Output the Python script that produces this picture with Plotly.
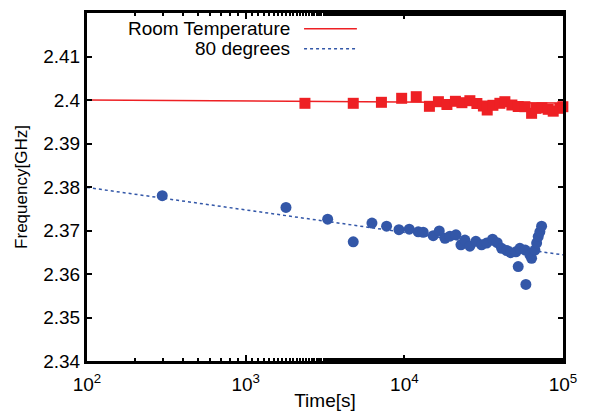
import plotly.graph_objects as go

# Room temperature (red squares)
rt_time = [2364, 4765, 7172, 9620, 11890, 14390, 16400, 18550, 20990, 23060,
           25890, 28660, 31500, 33290, 36160, 40010, 43020, 47640, 52200, 57520,
           63400, 67460, 73620, 80680, 86750, 95560, 99800]
rt_freq = [2.39924, 2.39924, 2.39947, 2.40039, 2.40076, 2.39855, 2.39961, 2.39897, 2.39970, 2.39938,
           2.39984, 2.39920, 2.39862, 2.39770, 2.39878, 2.39924, 2.39961, 2.39885, 2.39851, 2.39846,
           2.39694, 2.39809, 2.39821, 2.39786, 2.39743, 2.39809, 2.39846]

# 80 degrees (blue circles)
hot_time = [298, 1795, 3287, 4765, 6250, 7730, 9250, 10740, 12240,
            13150, 15210, 16600, 18030, 19380, 21150, 22740, 24090, 25890, 28250,
            30690, 33010, 35980, 38480, 41020, 44140, 46770, 50500, 53500, 52200,
            57800, 58350, 61850, 63400, 66530, 68200, 69800, 71500, 73300]
hot_freq = [2.3780, 2.3753, 2.3726, 2.3674, 2.3717, 2.3710, 2.3702, 2.3703, 2.3697,
            2.3696, 2.3688, 2.3699, 2.3682, 2.3687, 2.3690, 2.3667, 2.3678, 2.3664, 2.3675,
            2.3667, 2.3671, 2.3680, 2.3672, 2.3659, 2.3654, 2.3649, 2.3651, 2.3659, 2.3617,
            2.3655, 2.3576, 2.3644, 2.3636, 2.3655, 2.3671, 2.3686, 2.3697, 2.3710]

# Fit lines (log-linear), endpoints
fit_time = [1e2, 1e5]
fit_rt = [2.4000, 2.3993]
fit_hot = [2.3799, 2.3644]

x_tickvals = [1e2, 1e3, 1e4, 1e5]
x_ticktext = ["10<sup>2</sup>", "10<sup>3</sup>", "10<sup>4</sup>", "10<sup>5</sup>"]
y_tickvals = [2.34, 2.35, 2.36, 2.37, 2.38, 2.39, 2.40, 2.41, 2.42]
y_ticktext = ["2.34", "2.35", "2.36", "2.37", "2.38", "2.39", "2.4", "2.41", "2.42"]

RED = "#ee2024"
BLUE = "#3357a8"
FONT = "Liberation Sans, Arial, sans-serif"

fig = go.Figure()
fig.add_trace(go.Scatter(x=fit_time, y=fit_rt, mode="lines",
                         line=dict(color=RED, width=1.5), showlegend=False))
fig.add_trace(go.Scatter(x=fit_time, y=fit_hot, mode="lines",
                         line=dict(color=BLUE, width=1.5, dash="dot"), showlegend=False))
fig.add_trace(go.Scatter(x=rt_time, y=rt_freq, mode="markers", cliponaxis=False,
                         marker=dict(symbol="square", size=11, color=RED), showlegend=False))
fig.add_trace(go.Scatter(x=hot_time, y=hot_freq, mode="markers", cliponaxis=False,
                         marker=dict(symbol="circle", size=11, color=BLUE), showlegend=False))

# Legend (text on the left of sample, like gnuplot)
leg_items = [("Room Temperature", RED, "solid", 0.955), ("80 degrees", BLUE, "dot", 0.897)]
for label, col, dash, yy in leg_items:
    fig.add_annotation(xref="paper", yref="paper", x=0.431, y=yy, text=label,
                       showarrow=False, xanchor="right", yanchor="middle",
                       font=dict(family=FONT, size=19, color="black"))
    fig.add_shape(type="line", xref="paper", yref="paper", x0=0.456, x1=0.567,
                  y0=yy, y1=yy, line=dict(color=col, width=1.5, dash=dash))

# the page body adds an 8px offset, so the figure is sized to fill the rest
fig.update_layout(
    width=584, height=409,
    margin=dict(l=79, r=29, t=5, b=56, autoexpand=False),
    plot_bgcolor="white", paper_bgcolor="white",
    font=dict(family=FONT, size=19, color="black"),
    xaxis=dict(type="log", range=[2, 5], tickvals=x_tickvals, ticktext=x_ticktext,
               ticks="inside", ticklen=6, tickwidth=2, tickcolor="black",
               minor=dict(ticks="inside", ticklen=3, tickwidth=2, tickcolor="black", showgrid=False),
               showline=True, linewidth=3, linecolor="black", mirror="ticks",
               showgrid=False, zeroline=False, automargin=False, ticklabelstandoff=4,
               title=dict(text="Time[s]", font=dict(size=19), standoff=0)),
    yaxis=dict(range=[2.34, 2.42], tickvals=y_tickvals, ticktext=y_ticktext,
               ticks="inside", ticklen=5, tickwidth=2, tickcolor="black",
               showline=True, linewidth=3, linecolor="black", mirror="ticks",
               showgrid=False, zeroline=False, automargin=False,
               title=dict(text="Frequency[GHz]", font=dict(size=17), standoff=12)),
)

fig.write_html("out.html")
